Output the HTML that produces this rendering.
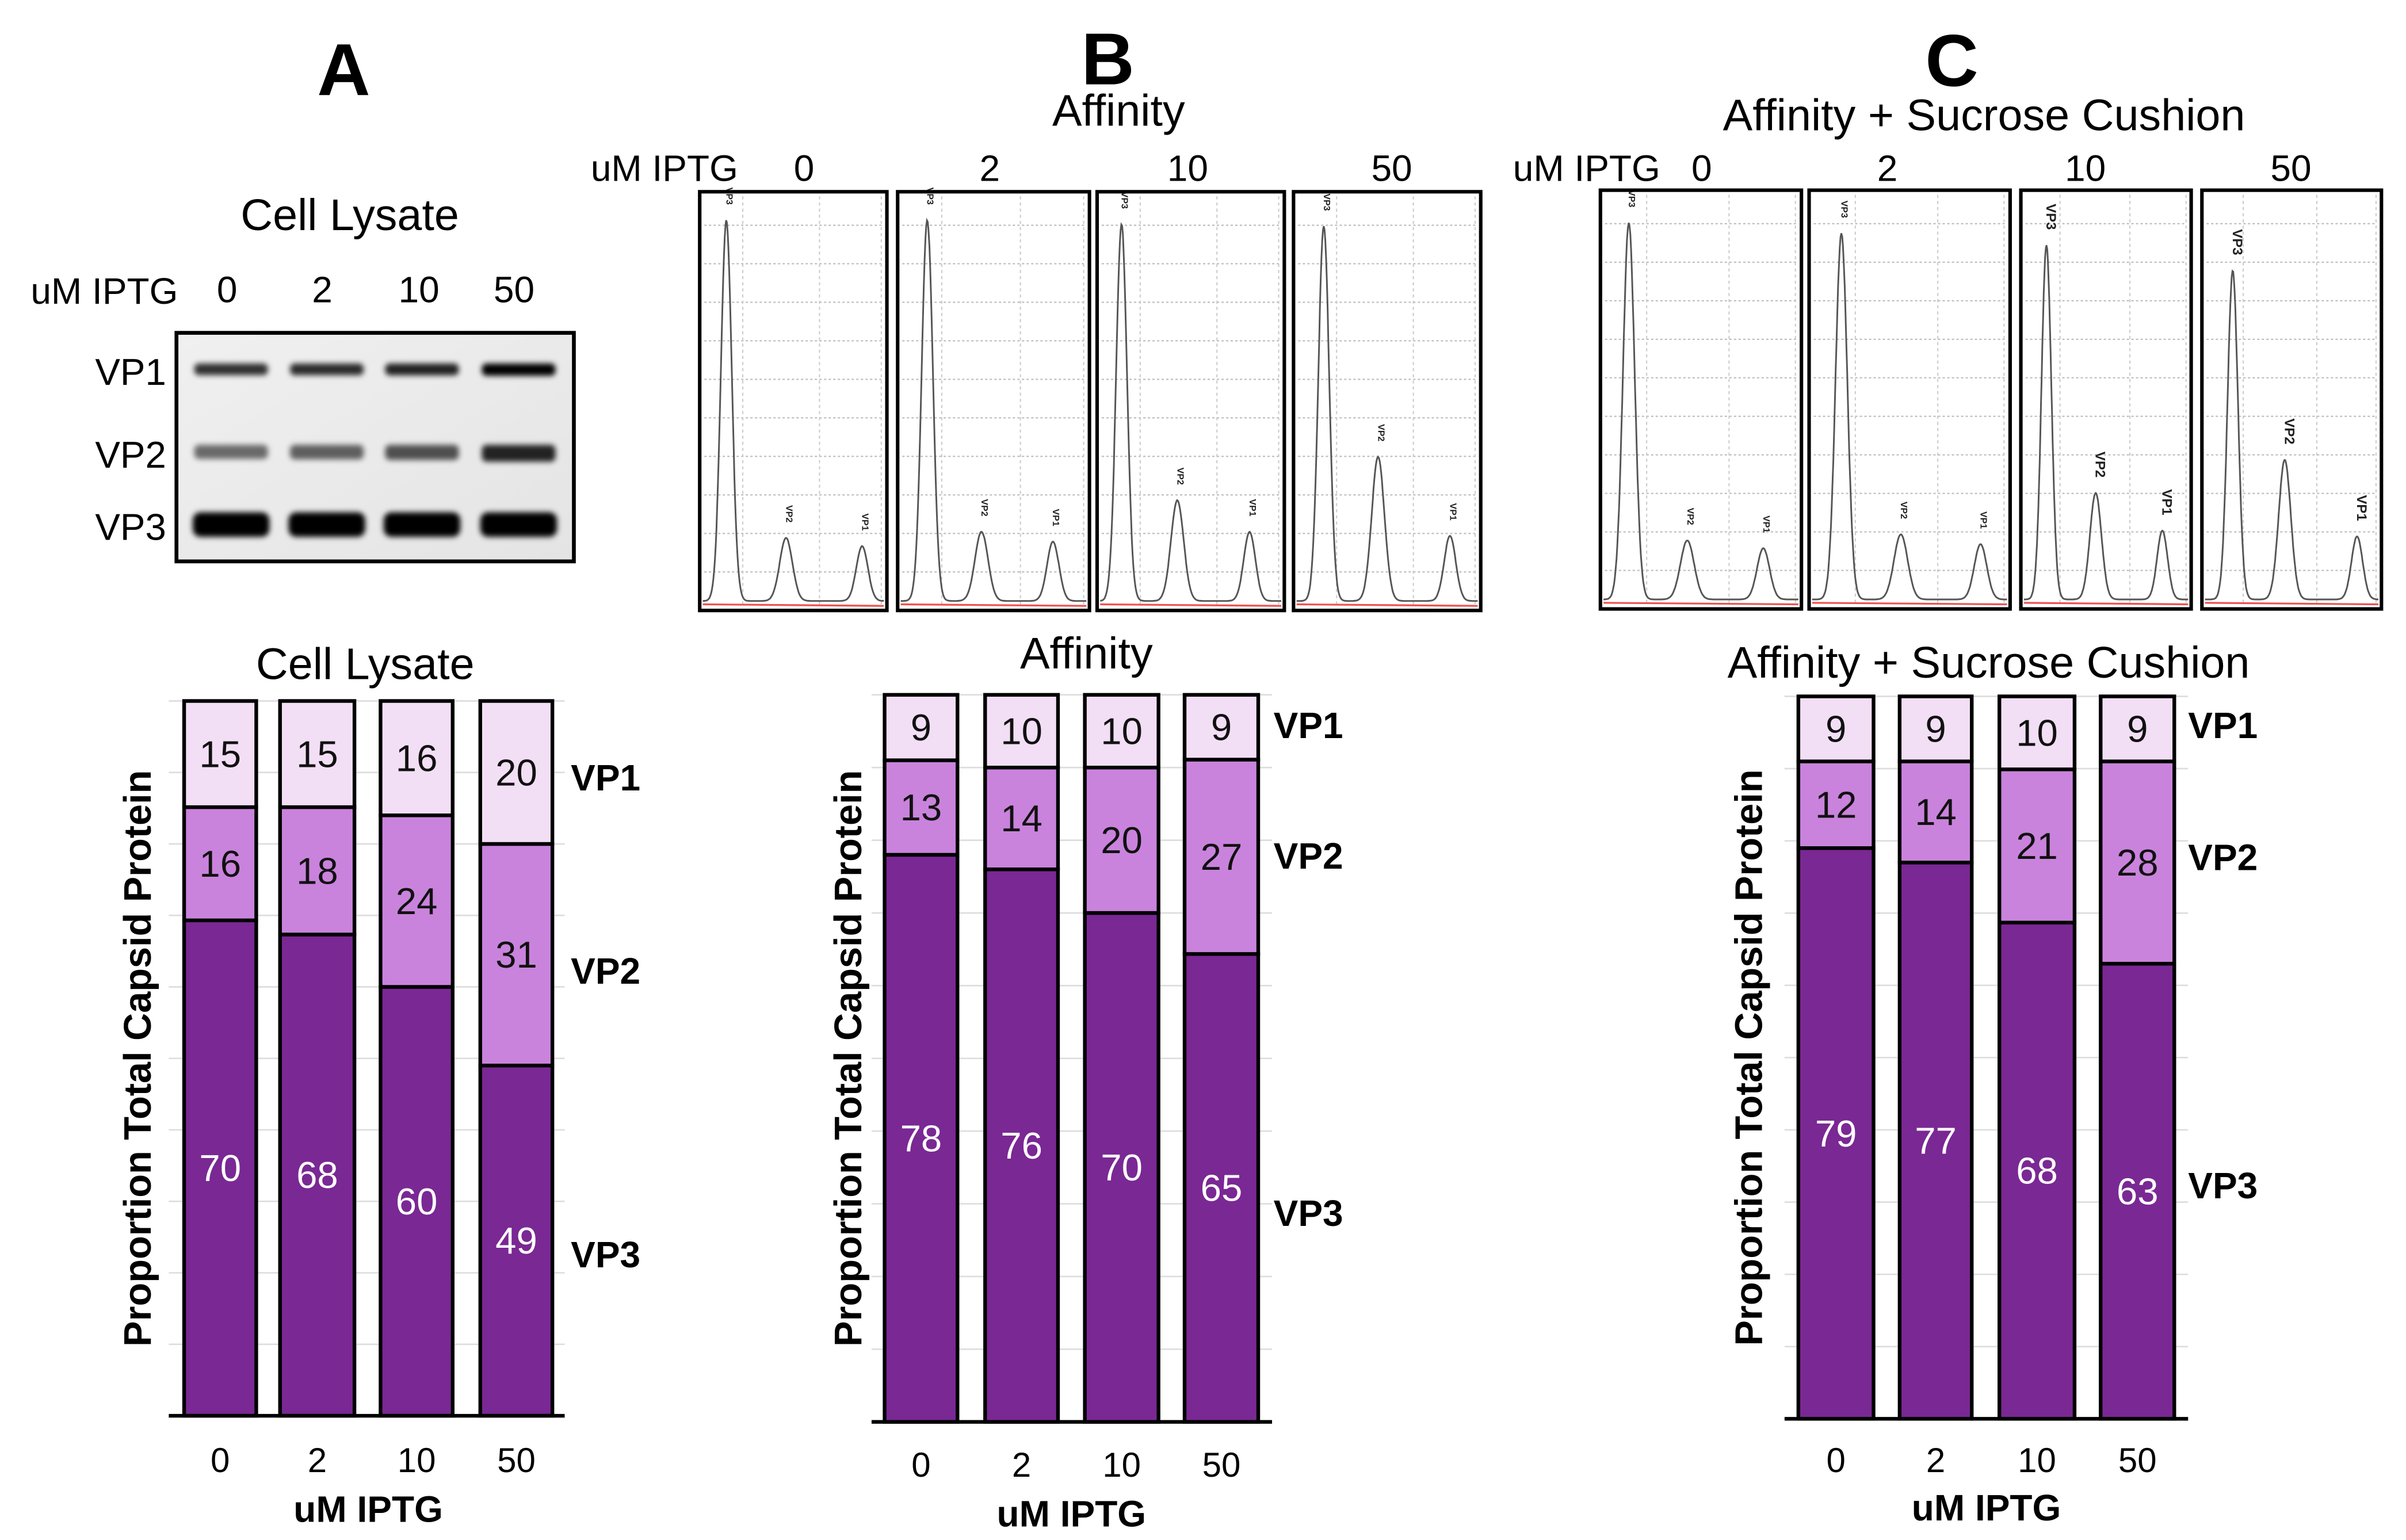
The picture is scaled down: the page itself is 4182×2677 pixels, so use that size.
<!DOCTYPE html>
<html><head><meta charset="utf-8"><title>Capsid protein proportions</title>
<style>
html,body{margin:0;padding:0;background:#fff;}
svg{display:block;font-family:"Liberation Sans",Arial,sans-serif;}
</style></head>
<body>
<svg id="fig" width="4182" height="2677" viewBox="0 0 1568 1004" preserveAspectRatio="none" xmlns="http://www.w3.org/2000/svg">
<defs>
<filter id="blur" x="-20%" y="-50%" width="140%" height="200%"><feGaussianBlur stdDeviation="1.8"/></filter>
<linearGradient id="gelbg" x1="0" y1="0" x2="1" y2="1"><stop offset="0" stop-color="#f0f0f0"/><stop offset="1" stop-color="#e4e4e4"/></linearGradient>
</defs>
<text x="224" y="62" font-size="48" font-weight="bold" text-anchor="middle">A</text>
<text x="722" y="55" font-size="48" font-weight="bold" text-anchor="middle">B</text>
<text x="1272" y="56" font-size="48" font-weight="bold" text-anchor="middle">C</text>

<g>
<text x="228" y="150" font-size="29" text-anchor="middle">Cell Lysate</text>
<text x="20" y="198" font-size="24">uM IPTG</text>
<text x="148" y="197" font-size="24" text-anchor="middle">0</text>
<text x="210" y="197" font-size="24" text-anchor="middle">2</text>
<text x="273" y="197" font-size="24" text-anchor="middle">10</text>
<text x="335" y="197" font-size="24" text-anchor="middle">50</text>
<text x="62" y="251" font-size="24.5">VP1</text>
<text x="62" y="305" font-size="24.5">VP2</text>
<text x="62" y="352" font-size="24.5">VP3</text>
<rect x="115" y="217" width="259" height="149" fill="url(#gelbg)" stroke="#000" stroke-width="2.5"/>
<g id="gelbands" filter="url(#blur)"></g>
</g>

<g id="traces"></g>
<g id="charts"></g>

<script>
const doses = ['0','2','10','50'];
const lysateVP1 = [15,15,16,20];
const lysateVP2 = [16,18,24,31];
const lysateVP3 = [70,68,60,49];
const affinityVP1 = [9,10,10,9];
const affinityVP2 = [13,14,20,27];
const affinityVP3 = [78,76,70,65];
const sucroseVP1 = [9,9,10,9];
const sucroseVP2 = [12,14,21,28];
const sucroseVP3 = [79,77,68,63];
const gelVP1 = [0.8,0.82,0.86,1];
const gelVP2 = [0.65,0.7,0.78,1];
const gelVP3 = [1,1,1,1];
const affPeakH = [[0.93,0.154,0.134],[0.93,0.169,0.145],[0.92,0.246,0.169],[0.915,0.352,0.159]];
const affPeakX = [[0.13,0.46,0.88],[0.143,0.435,0.82],[0.118,0.426,0.825],[0.15,0.45,0.847]];
const sucPeakH = [[0.92,0.144,0.125],[0.894,0.159,0.135],[0.865,0.26,0.168],[0.803,0.341,0.154]];
const sucPeakX = [[0.13,0.43,0.82],[0.15,0.455,0.864],[0.137,0.437,0.843],[0.16,0.46,0.877]];

const NS='http://www.w3.org/2000/svg';
function mk(tag, attrs, parent, text){
  const e=document.createElementNS(NS,tag);
  for(const k in attrs) e.setAttribute(k, attrs[k]);
  if(text!==undefined) e.textContent=text;
  parent.appendChild(e); return e;
}

const gb=document.getElementById('gelbands');
const laneX=[150.6,213,275,338];
for(let i=0;i<4;i++){
  const b1=mk('rect',{x:laneX[i]-24,y:237,width:48,height:6+gelVP1[i]*2,rx:3,fill:'#000','fill-opacity':gelVP1[i]},gb);
  
  
  const b2=mk('rect',{x:laneX[i]-24,y:290,width:48,height:6+gelVP2[i]*5,rx:3,fill:'#000','fill-opacity':gelVP2[i]*0.85},gb);
  
  
  const b3=mk('rect',{x:laneX[i]-25,y:334,width:50,height:16*gelVP3[i],rx:5,fill:'#000'},gb);
  
  
}

const tg=document.getElementById('traces');
function traceGroup(boxes, peakH, peakX, labels, title, tx, ty, iptgX, labelY, prefix){
  const t=mk('text',{x:tx,y:ty,'font-size':29,'text-anchor':'middle'},tg,title);
  
  
  const u=mk('text',{x:iptgX,y:labelY,'font-size':24},tg,'uM IPTG');
  
  
  boxes.forEach((b,i)=>{
    const [x0,x1,y0,y1]=b, w=x1-x0, h=y1-y0;
    const l=mk('text',{x:labels[i],y:labelY,'font-size':24,'text-anchor':'middle'},tg,doses[i]);
    
    
    const g=mk('g',{},tg);
    
    
    for(let k=1;k<=10;k++){
      const yy=y1-h*k*0.092;
      mk('line',{x1:x0+3,x2:x1-3,y1:yy,y2:yy,stroke:'#bbb','stroke-width':0.8,'stroke-dasharray':'1.5 1.5'},g);
    }
    [0.23,0.64,0.97].forEach(f=>mk('line',{x1:x0+w*f,x2:x0+w*f,y1:y0+3,y2:y1-3,stroke:'#ccc','stroke-width':0.8,'stroke-dasharray':'2 2'},g));
    mk('line',{x1:x0+2,x2:x1-2,y1:y1-4,y2:y1-3,stroke:'#f05050','stroke-width':1.2},g);
    const sig=[0.03,0.035,0.032];
    let d='';
    for(let s=0;s<=240;s++){
      const fx=s/240; let v=0.012;
      for(let p=0;p<3;p++){const z=(fx-peakX[i][p])/sig[p]; v+=peakH[i][p]*Math.exp(-z*z/2);}
      d+=(s?'L':'M')+(x0+2+fx*(w-4)).toFixed(1)+' '+(y1-3-v*(h-6)).toFixed(1);
    }
    mk('path',{d:d,fill:'none',stroke:'#555','stroke-width':1.1},g);
    const names=['VP3','VP2','VP1'];
    for(let p=0;p<3;p++){
      const px=x0+2+peakX[i][p]*(w-4), py=y1-3-(peakH[i][p]+0.012)*(h-6)-10;
      mk('text',{x:px,y:py,'font-size':prefix==='sucrose'&&i>1?9:6,'font-weight':'bold',transform:'rotate(90 '+px+' '+py+')','text-anchor':'end',fill:'#222'},g,names[p]);
    }
    const r=mk('rect',{x:x0,y:y0,width:w,height:h,fill:'none',stroke:'#000','stroke-width':2.3},g);
    
    
  });
}
traceGroup([[456,578,125,398],[585,710,125,398],[715,837,125,398],[843,965,125,398]], affPeakH, affPeakX,
  [524,645,774,907],'Affinity',729,82,385,118,'affinity');
traceGroup([[1043,1174,124,397],[1179,1310,124,397],[1317,1428,124,397],[1435,1552,124,397]], sucPeakH, sucPeakX,
  [1109,1230,1359,1493],'Affinity + Sucrose Cushion',1293,85,986,118,'sucrose');

const cg=document.getElementById('charts');
const COL={vp1:'#f2def5',vp2:'#c983dc',vp3:'#7a2894'};
function stacked(cfg){
  const {prefix,bars,top,bottom,axisX0,axisX1,vp1,vp2,vp3,title,titleX,titleY,yTitleX,vpX,vpY,tickY,xTitleY}=cfg;
  const yScale=v=>bottom-(v/100)*(bottom-top);
  const g=mk('g',{},cg);
  
  
  const t=mk('text',{x:titleX,y:titleY,'font-size':29,'text-anchor':'middle','dominant-baseline':'central'},g,title);
  
  
  for(let k=1;k<=10;k++){
    const gl=mk('line',{x1:axisX0,x2:axisX1,y1:yScale(k*10),y2:yScale(k*10),stroke:'#ddd','stroke-width':1},g);
    
    
  }
  bars.forEach((bx,i)=>{
    const tot=vp1[i]+vp2[i]+vp3[i];
    const s3=vp3[i]/tot*100, s2=vp2[i]/tot*100;
    const [x0,x1]=bx, w=x1-x0, cx=(x0+x1)/2;
    const segs=[['vp3',0,s3,vp3[i],'#fff'],['vp2',s3,s3+s2,vp2[i],'#111'],['vp1',s3+s2,100,vp1[i],'#111']];
    segs.forEach(([key,a,b,val,tc])=>{
      const r=mk('rect',{x:x0,y:yScale(b),width:w,height:yScale(a)-yScale(b),fill:COL[key],stroke:'#000','stroke-width':2.4},g);
      
      
      const lt=mk('text',{x:cx,y:(yScale(a)+yScale(b))/2,'font-size':24.5,'text-anchor':'middle','dominant-baseline':'central',fill:tc},g,String(val));
      
      
    });
    const tk=mk('text',{x:cx,y:tickY,'font-size':22.5,'text-anchor':'middle','dominant-baseline':'central'},g,doses[i]);
    
    
  });
  const ax=mk('line',{x1:axisX0,x2:axisX1,y1:bottom,y2:bottom,stroke:'#000','stroke-width':2.4},g);
  
  
  const xt=mk('text',{x:(bars[0][0]+bars[3][1])/2,y:xTitleY,'font-size':24,'font-weight':'bold','text-anchor':'middle','dominant-baseline':'central'},g,'uM IPTG');
  
  
  const cy=(top+bottom)/2;
  const yt=mk('text',{x:yTitleX,y:cy,'font-size':25,'font-weight':'bold','text-anchor':'middle','dominant-baseline':'central',transform:'rotate(-90 '+yTitleX+' '+cy+')'},g,'Proportion Total Capsid Protein');
  
  
  ['VP1','VP2','VP3'].forEach((n,k)=>{
    const v=mk('text',{x:vpX,y:vpY[k],'font-size':24,'font-weight':'bold','dominant-baseline':'central'},g,n);
    
    
  });
}
stacked({prefix:'lysate',bars:[[120,167],[182.5,231],[248,295],[313,360]],top:457,bottom:923,axisX0:110,axisX1:368,
  vp1:lysateVP1,vp2:lysateVP2,vp3:lysateVP3,title:'Cell Lysate',titleX:238,titleY:433,yTitleX:90,vpX:372,vpY:[507,633,818],tickY:952,xTitleY:984});
stacked({prefix:'affinity',bars:[[576.5,624],[642,689.5],[707,755],[772,820]],top:453,bottom:927,axisX0:568,axisX1:829,
  vp1:affinityVP1,vp2:affinityVP2,vp3:affinityVP3,title:'Affinity',titleX:708,titleY:426,yTitleX:553,vpX:830,vpY:[473,558,791],tickY:955,xTitleY:987});
stacked({prefix:'sucrose',bars:[[1172,1221],[1238,1285],[1303,1352],[1369,1417]],top:454,bottom:925,axisX0:1163,axisX1:1426,
  vp1:sucroseVP1,vp2:sucroseVP2,vp3:sucroseVP3,title:'Affinity + Sucrose Cushion',titleX:1296,titleY:432,yTitleX:1140,vpX:1426,vpY:[473,559,773],tickY:952,xTitleY:983});
</script>
</svg>
</body></html>
